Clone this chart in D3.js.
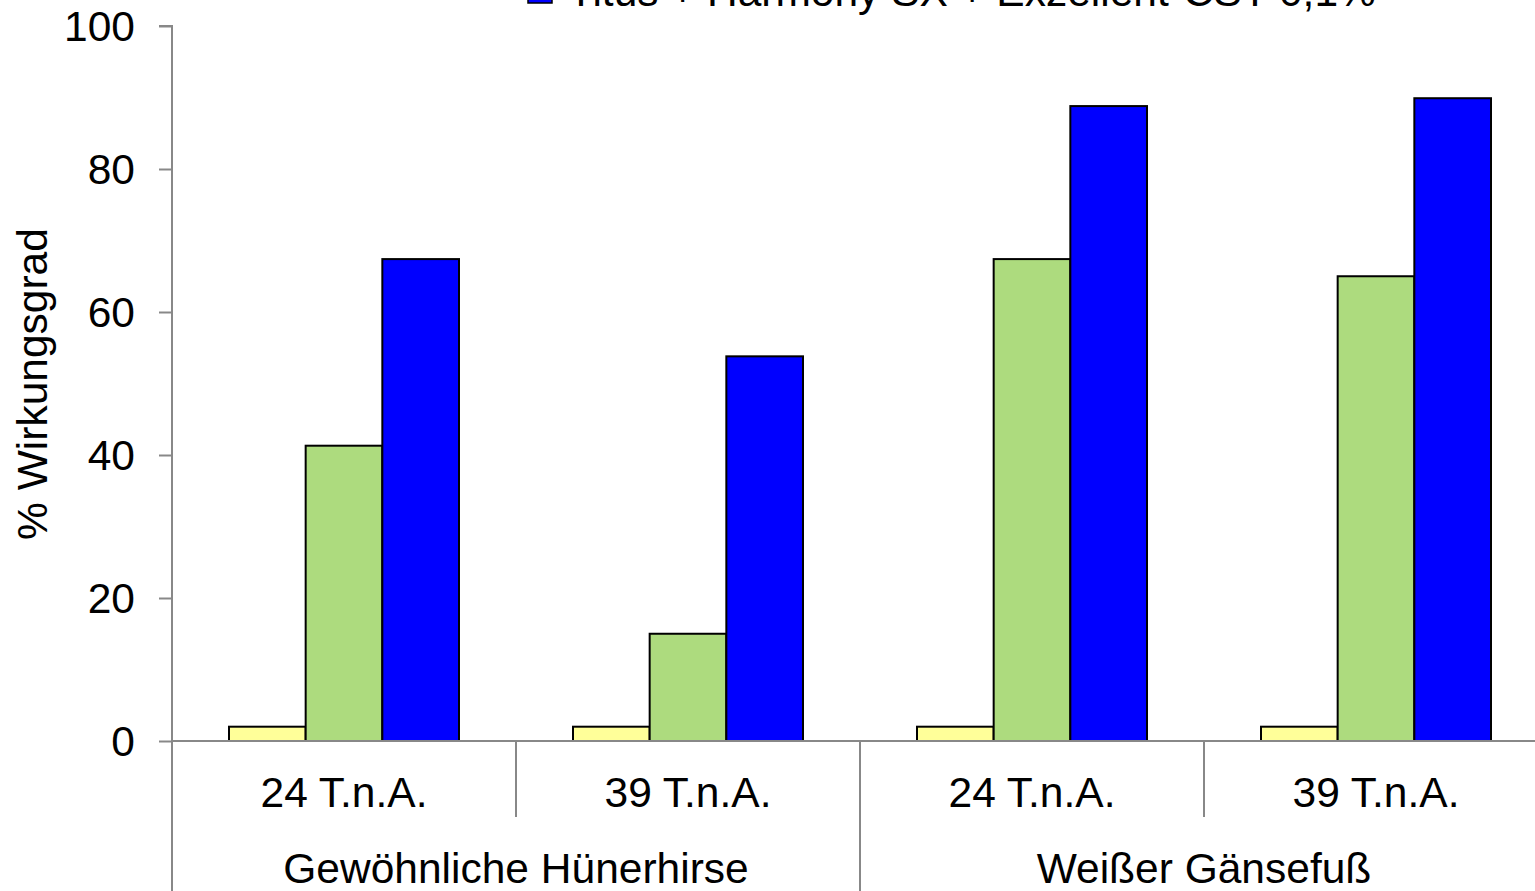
<!DOCTYPE html>
<html><head><meta charset="utf-8">
<script src="https://cdn.jsdelivr.net/npm/d3@7"></script>
<style>html,body{margin:0;padding:0;background:#fff;overflow:hidden}</style>
</head><body>
<svg id="c" width="1535" height="891"></svg>
<script>
const groups = ["Gewöhnliche Hünerhirse", "Weißer Gänsefuß"];
const timings = ["24 T.n.A.", "39 T.n.A."];
const categories = ["G1|24 T.n.A.", "G1|39 T.n.A.", "G2|24 T.n.A.", "G2|39 T.n.A."];
const seriesNames = ["Kontrolle", "Titus + Harmony SX", "Titus + Harmony SX + Exzellent-CST 0,1%"];
const seriesColors = ["#FFFF99", "#ADDB7E", "#0000FF"];
const valuesYellow = [2, 2, 2, 2];
const valuesGreen = [41.3, 15.0, 67.4, 65.0];
const valuesBlue = [67.4, 53.8, 88.8, 89.9];
const yTicks = [0, 20, 40, 60, 80, 100];

(function () {
const series = [valuesYellow, valuesGreen, valuesBlue];
const svg = d3.select("#c");
const font = "'Liberation Sans', Arial, sans-serif";
const fs = 42.5;
const mLeft = 172, mRight = 1548, mTop = 26, mBottom = 741;

const x = d3.scaleBand().domain(categories).range([mLeft, mRight]).paddingInner(0).paddingOuter(0);
const xs = d3.scaleBand().domain(d3.range(3)).range([57, x.bandwidth() - 57]);
const y = d3.scaleLinear().domain([0, 100]).range([mBottom, mTop]);
const grey = "#888";

// bars
series.forEach((vals, si) => {
  svg.append("g").selectAll("rect").data(vals).join("rect")
    .attr("x", (d, i) => x(categories[i]) + xs(si))
    .attr("y", d => y(d))
    .attr("width", xs.bandwidth())
    .attr("height", d => y(0) - y(d))
    .attr("fill", seriesColors[si])
    .attr("stroke", "#000").attr("stroke-width", 2);
});

// y axis
const yAxis = d3.axisLeft(y).tickValues(yTicks).tickSize(13).tickPadding(24);
const ga = svg.append("g").attr("transform", `translate(${mLeft},0)`).call(yAxis);
ga.select(".domain").attr("stroke", grey).attr("stroke-width", 2).attr("d", `M-13,${mTop}H0V${mBottom}`);
ga.selectAll(".tick line").attr("stroke", grey).attr("stroke-width", 2);
ga.selectAll(".tick text").attr("font-family", font).attr("font-size", fs).attr("fill", "#000").attr("dy", "0.35em");

// x axis line
svg.append("line").attr("x1", mLeft).attr("x2", mRight).attr("y1", mBottom).attr("y2", mBottom).attr("stroke", grey).attr("stroke-width", 2);
svg.append("line").attr("x1", mLeft).attr("x2", mLeft).attr("y1", mBottom).attr("y2", 891).attr("stroke", grey).attr("stroke-width", 2);

// category separators
categories.forEach((c, i) => {
  if (i === 0) return;
  const xx = x(c);
  const long = (i % 2 === 0);
  svg.append("line").attr("x1", xx).attr("x2", xx).attr("y1", mBottom).attr("y2", long ? 891 : 817)
    .attr("stroke", grey).attr("stroke-width", 2);
});

// category labels
svg.append("g").selectAll("text").data(categories).join("text")
  .attr("x", c => x(c) + x.bandwidth() / 2)
  .attr("y", 807)
  .attr("text-anchor", "middle")
  .attr("font-family", font).attr("font-size", fs)
  .text(c => c.split("|")[1]);

// group labels
svg.append("g").selectAll("text").data(groups).join("text")
  .attr("x", (g, i) => x(categories[i * 2]) + x.bandwidth())
  .attr("y", 883)
  .attr("text-anchor", "middle")
  .attr("font-family", font).attr("font-size", fs)
  .text(g => g);

// y label
svg.append("text")
  .attr("transform", `translate(47,384) rotate(-90)`)
  .attr("text-anchor", "middle")
  .attr("font-family", font).attr("font-size", fs)
  .text("% Wirkungsgrad");

// legend (only the last entry is visible, cut at the top edge as in the original)
const si = 2;
const ly = 6;
svg.append("rect").attr("x", 528).attr("y", ly - 27).attr("width", 24).attr("height", 24)
  .attr("fill", seriesColors[si]).attr("stroke", "#000").attr("stroke-width", 1.5);
svg.append("text").attr("x", 568).attr("y", ly).attr("font-family", font).attr("font-size", fs)
  .text(seriesNames[si]);
})();
</script>
</body></html>
